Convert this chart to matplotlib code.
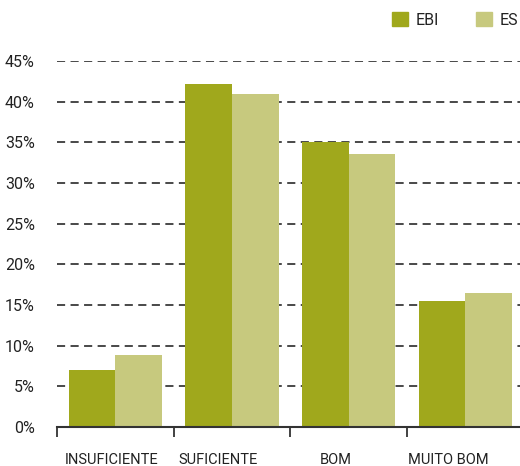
import matplotlib
matplotlib.use("Agg")
from matplotlib import pyplot as plt
from matplotlib.patches import Patch
import numpy as np

# Dados
categorias = ["INSUFICIENTE", "SUFICIENTE", "BOM", "MUITO BOM"]
ebi = [7.0, 42.2, 35.0, 15.5]
es = [8.85, 40.9, 33.6, 16.5]
series = ["EBI", "ES"]
yticks = [0, 5, 10, 15, 20, 25, 30, 35, 40, 45]

cor_ebi = "#a0a81c"
cor_es = "#c7c97e"
cor_texto = "#222222"

plt.rcParams["font.family"] = ["Roboto", "DejaVu Sans"]

W, H = 520, 466
fig = plt.figure(figsize=(W / 100, H / 100), dpi=100)
# eixo de x=57 ate a borda direita, y de 427 (0%) a 61 (45%)
ax = fig.add_axes([57 / W, (H - 427) / H, (W - 57) / W, (427 - 61) / H])

x = np.arange(len(categorias)) + 0.5
largura = 0.4
ax.bar(x - 0.2, ebi, largura, color=cor_ebi, zorder=3)
ax.bar(x + 0.2, es, largura, color=cor_es, zorder=3)

ax.set_xlim(0, (W - 57) / 116.7)
ax.set_ylim(0, 45)

# grade tracejada
for v in yticks[1:]:
    ax.axhline(v, color="#3a3a3a", lw=1.3, ls=(0, (4.5, 3)), zorder=1)

ax.set_yticks(yticks)
ax.set_yticklabels([f"{v}%" for v in yticks], fontsize=11.5, color=cor_texto)
ax.tick_params(axis="y", length=0, pad=16)

# marcas nos limites dos grupos, rótulos deslocados
ax.set_xticks(np.arange(len(categorias)))
ax.set_xticklabels([])
ax.tick_params(axis="x", which="major", length=7, width=1.3, color="#333333")
pos_rotulos = [0.47, 1.38, 2.39, 3.35]
ax.set_xticks(pos_rotulos, minor=True)
ax.set_xticklabels(categorias, minor=True, fontsize=10.5, color=cor_texto)
ax.tick_params(axis="x", which="minor", length=0, pad=19)

for lado in ["top", "right", "left"]:
    ax.spines[lado].set_visible(False)
ax.spines["bottom"].set_color("#333333")
ax.spines["bottom"].set_linewidth(1.5)
ax.spines["bottom"].set_zorder(4)

handles = [Patch(color=cor_ebi), Patch(color=cor_es)]
fig.legend(handles, series, loc="upper left", bbox_to_anchor=(392 / W, 1 - 12 / H),
           ncol=2, frameon=False, fontsize=11.5, handlelength=1.0, handleheight=1.0,
           handletextpad=0.5, columnspacing=2.3, borderpad=0, borderaxespad=0,
           labelcolor=cor_texto)

fig.savefig("out.png", dpi=100)
